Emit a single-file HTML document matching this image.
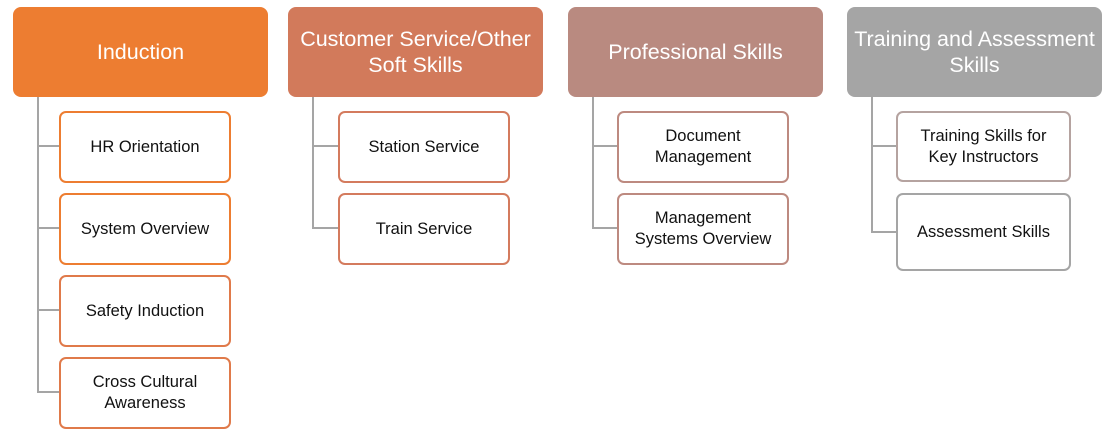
<!DOCTYPE html>
<html><head><meta charset="utf-8"><style>
body{margin:0;width:1112px;height:441px;background:#fff;position:relative;overflow:hidden;font-family:"Liberation Sans",sans-serif}
.h{position:absolute;top:7px;width:255px;height:90px;border-radius:8px;color:#fff;font-size:21.5px;display:flex;align-items:center;justify-content:center;text-align:center;line-height:26px;white-space:nowrap}
.c{position:absolute;box-sizing:border-box;width:172px;height:72px;border:2px solid;border-radius:7px;background:#fff;font-size:16.5px;color:#111;display:flex;align-items:center;justify-content:center;text-align:center;line-height:21px;white-space:nowrap}
.v{position:absolute;width:2px;background:#a5a5a5}
.l{position:absolute;height:2px;background:#a5a5a5}
</style></head><body>
<div class="h" style="left:13px;background:#ed7d31">Induction</div>
<div class="h" style="left:288px;background:#d27a5b">Customer Service/Other<br>Soft Skills</div>
<div class="h" style="left:568px;background:#b98a80">Professional Skills</div>
<div class="h" style="left:847px;background:#a5a5a5">Training and Assessment<br>Skills</div>

<div class="v" style="left:37px;top:97px;height:296px"></div>
<div class="l" style="left:37px;top:145px;width:22px"></div>
<div class="l" style="left:37px;top:227px;width:22px"></div>
<div class="l" style="left:37px;top:309px;width:22px"></div>
<div class="l" style="left:37px;top:391px;width:22px"></div>
<div class="c" style="left:59px;top:111px;border-color:#ed7d31">HR Orientation</div>
<div class="c" style="left:59px;top:193px;border-color:#ed7d31">System Overview</div>
<div class="c" style="left:59px;top:275px;border-color:#e07a4a">Safety Induction</div>
<div class="c" style="left:59px;top:357px;border-color:#e07a4a">Cross Cultural<br>Awareness</div>

<div class="v" style="left:312px;top:97px;height:132px"></div>
<div class="l" style="left:312px;top:145px;width:27px"></div>
<div class="l" style="left:312px;top:227px;width:27px"></div>
<div class="c" style="left:338px;top:111px;border-color:#d47b5e">Station Service</div>
<div class="c" style="left:338px;top:193px;border-color:#d47b5e">Train Service</div>

<div class="v" style="left:592px;top:97px;height:132px"></div>
<div class="l" style="left:592px;top:145px;width:26px"></div>
<div class="l" style="left:592px;top:227px;width:26px"></div>
<div class="c" style="left:617px;top:111px;border-color:#bd8a80">Document<br>Management</div>
<div class="c" style="left:617px;top:193px;border-color:#bd8a80">Management<br>Systems Overview</div>

<div class="v" style="left:871px;top:97px;height:136px"></div>
<div class="l" style="left:871px;top:145px;width:26px"></div>
<div class="l" style="left:871px;top:231px;width:26px"></div>
<div class="c" style="left:896px;top:111px;width:175px;height:71px;border-color:#b5a3a0">Training Skills for<br>Key Instructors</div>
<div class="c" style="left:896px;top:193px;width:175px;height:78px;border-color:#a5a5a5">Assessment Skills</div>
</body></html>
